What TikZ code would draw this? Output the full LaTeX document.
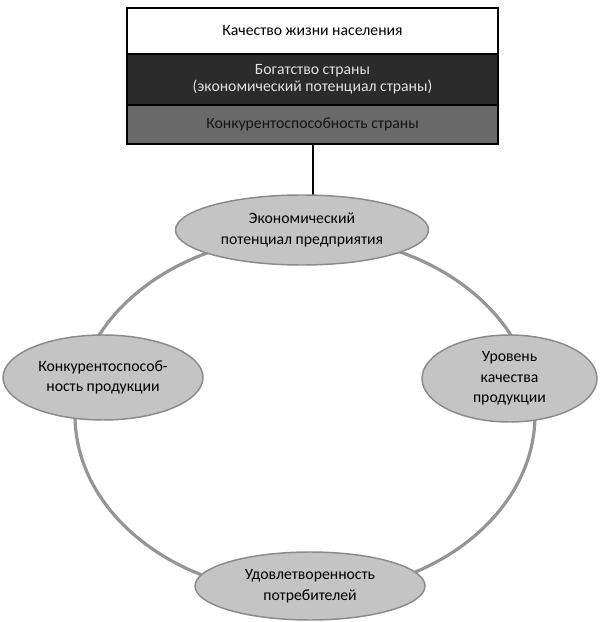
\documentclass[tikz,border=0pt]{standalone}
\usepackage{fontspec}
\setmainfont{Carlito}
\usepackage{tikz}
\usetikzlibrary{positioning, shapes.geometric, backgrounds}
\definecolor{ovalfill}{HTML}{C4C4C4}
\definecolor{ovalline}{HTML}{8A8A8A}
\definecolor{ringline}{HTML}{959595}
\definecolor{darkrow}{HTML}{2B2B2B}
\definecolor{midrow}{HTML}{6A6A6A}

\begin{document}
\begin{tikzpicture}[x=0.75pt, y=0.75pt,
  font=\fontsize{11.8}{13}\selectfont,
  row/.style={draw=black, line width=1.5pt, outer sep=0pt, inner sep=0pt,
              minimum width=278.25pt, align=center},
  oval/.style={ellipse, draw=ovalline, line width=1.1pt, fill=ovalfill,
               inner sep=0pt, align=center, font=\fontsize{11.8}{15.5}\selectfont},
  ring/.style={draw=ringline, line width=2.4pt}]

\useasboundingbox (0,0) rectangle (602,622);
%
\node[row, minimum height=34.5pt] (life) at (312.5,591) {Качество жизни населения};
\node[row, minimum height=38.25pt, fill=darkrow, text=white!88!black, below=0pt of life] (wealth)
  {Богатство страны\\(экономический потенциал страны)};
\node[row, minimum height=29.25pt, fill=midrow, text=black!92, below=0pt of wealth] (compet)
  {Конкурентоспособность страны};

\coordinate (ringc) at (305,207);
\draw[ring] (ringc) ellipse [x radius=172.5pt, y radius=134.25pt];

\node[oval, minimum width=189.75pt, minimum height=52.5pt] (econ) at (302,392)
  {Экономический\\потенциал предприятия};
\node[oval, minimum width=150pt, minimum height=63.75pt] (prod) at (103,244.5)
  {Конкурентоспособ-\\ность продукции};
\node[oval, minimum width=131.25pt, minimum height=65.25pt] (qual) at (509.5,243.5)
  {Уровень\\качества\\продукции};
\node[oval, minimum width=172.5pt, minimum height=51pt] (cons) at (310,36)
  {Удовлетворенность\\потребителей};

\begin{scope}[on background layer]
\draw[line width=1.5pt] (compet.south) -- (compet.south |- econ.center);
\end{scope}
%
\end{tikzpicture}
\end{document}
